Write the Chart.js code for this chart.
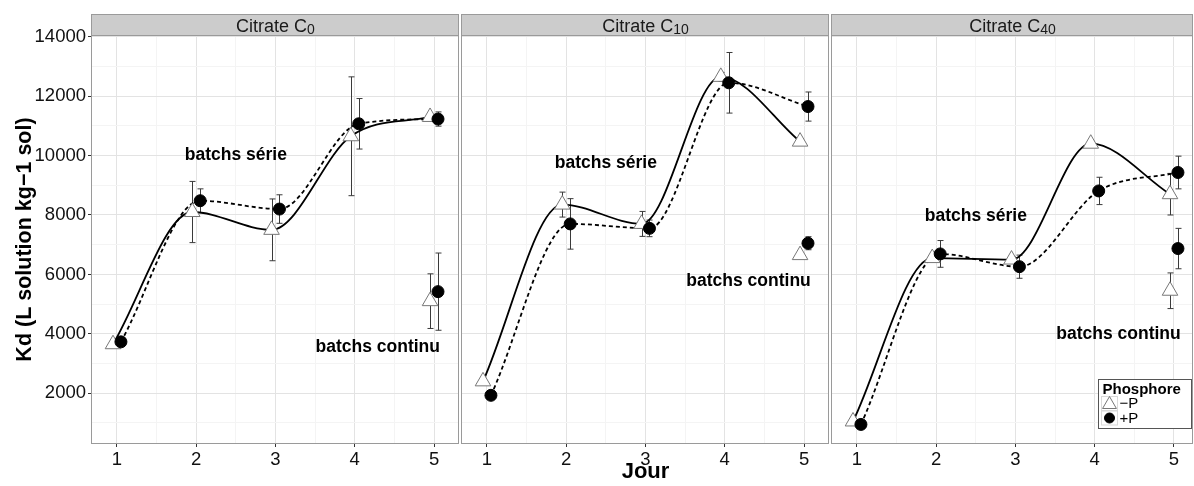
<!DOCTYPE html>
<html>
<head>
<meta charset="utf-8">
<script src="https://cdn.jsdelivr.net/npm/chart.js@4.4.1/dist/chart.umd.min.js"></script>
<style>
  body { margin: 0; background: #fff; width: 1194px; height: 486px; overflow: hidden; position: relative; }
  canvas { position: absolute; top: 0; }
</style>
</head>
<body>
<canvas id="p0" width="460" height="486" style="left:0px"></canvas>
<canvas id="p1" width="371" height="486" style="left:460px"></canvas>
<canvas id="p2" width="363" height="486" style="left:831px"></canvas>
<script>
// --- données ---
const jours = [1, 2, 3, 4, 5];
const citrates = ['0', '10', '40'];            // indice du citrate (C0, C10, C40)
const yTicks = [2000, 4000, 6000, 8000, 10000, 12000, 14000];
const phosphore = ['\u2212P', '+P'];

// batchs série, jours 1 à 5, une ligne par panneau
const serieMoinsP    = [[3650, 8100, 7500, 10650, 11300], [2400, 8350, 7700, 12650, 10470], [1050, 6550, 6500, 10400, 8700]];
const serieMoinsPErr = [[90, 1030, 1040, 2000, 60],       [50, 420, 420, 150, 100],          [50, 80, 100, 80, 700]];
const seriePlusP     = [[3730, 8480, 8200, 11070, 11230], [1930, 7700, 7550, 12450, 11650], [950, 6690, 6260, 8810, 9430]];
const seriePlusPErr  = [[80, 400, 480, 850, 240],         [50, 850, 280, 1020, 490],         [60, 450, 390, 460, 550]];

// batchs continu (jour 5)
const continuMoinsP    = [5100, 6650, 5450];
const continuMoinsPErr = [920, 70, 600];
const continuPlusP     = [5420, 7050, 6870];
const continuPlusPErr  = [1300, 220, 680];

// annotations (coordonnées dans l'espace des données)
const annotTexts = ['batchs série', 'batchs continu'];
const annotPos = [[[2.5, 10000], [4.29, 3550]], [[2.5, 9750], [4.3, 5775]], [[2.5, 7950], [4.3, 4000]]];

const FONT = "'Liberation Sans', Arial, sans-serif";
const dodge = 0.05;

const layouts = [
  { pad: { left: 0, right: 1, top: 36, bottom: 0 }, yWidth: 92, xMax: 5.315 },
  { pad: { left: 2, right: 2, top: 36, bottom: 0 }, yWidth: 0, xMax: 5.315 },
  { pad: { left: 1, right: 1, top: 36, bottom: 0 }, yWidth: 0, xMax: 5.24 }
];

const facetPlugin = {
  id: 'facet',
  beforeDatasetsDraw(chart) {
    const ctx = chart.ctx, ys = chart.scales.y;
    chart.data.datasets.forEach((ds, i) => {
      if (!ds.err) return;
      const meta = chart.getDatasetMeta(i);
      ctx.save();
      ctx.strokeStyle = '#3a3a3a';
      ctx.lineWidth = 1;
      meta.data.forEach((pt, j) => {
        const e = ds.err[j];
        if (!e) return;
        const v = ds.data[j].y;
        const y1 = ys.getPixelForValue(v + e), y2 = ys.getPixelForValue(v - e);
        const x = Math.round(pt.x) + 0.5;
        ctx.beginPath();
        ctx.moveTo(x, y1); ctx.lineTo(x, y2);
        ctx.moveTo(x - 3, y1); ctx.lineTo(x + 3, y1);
        ctx.moveTo(x - 3, y2); ctx.lineTo(x + 3, y2);
        ctx.stroke();
      });
      ctx.restore();
    });
  },
  afterDraw(chart, args, opts) {
    const ctx = chart.ctx, a = chart.chartArea;
    const xs = chart.scales.x, ys = chart.scales.y;
    ctx.save();
    // annotations
    ctx.fillStyle = '#000';
    ctx.font = 'bold 17.5px ' + FONT;
    ctx.textAlign = 'center';
    ctx.textBaseline = 'middle';
    annotPos[opts.panel].forEach((p, k) => {
      ctx.fillText(annotTexts[k], xs.getPixelForValue(p[0]), ys.getPixelForValue(p[1]));
    });
    // bordure du panneau
    ctx.strokeStyle = '#9a9a9a';
    ctx.lineWidth = 1;
    ctx.strokeRect(a.left - 0.5, a.top - 0.5, a.right - a.left, a.bottom - a.top + 1);
    // bandeau
    const sTop = 14.5;
    ctx.fillStyle = '#cccccc';
    ctx.fillRect(a.left - 0.5, sTop, a.right - a.left, a.top - sTop - 0.5);
    ctx.strokeRect(a.left - 0.5, sTop, a.right - a.left, a.top - sTop - 0.5);
    const main = 'Citrate C', sub = citrates[opts.panel];
    ctx.font = '18px ' + FONT;
    const w1 = ctx.measureText(main).width;
    ctx.font = '14px ' + FONT;
    const w2 = ctx.measureText(sub).width;
    const cx = (a.left + a.right) / 2 - (w1 + w2) / 2;
    ctx.fillStyle = '#1a1a1a';
    ctx.textAlign = 'left';
    ctx.textBaseline = 'alphabetic';
    ctx.font = '18px ' + FONT;
    ctx.fillText(main, cx, 31.5);
    ctx.font = '14px ' + FONT;
    ctx.fillText(sub, cx + w1, 34);
    // légende (dernier panneau)
    if (opts.legend) {
      const bx = a.right - 94.5, by = a.bottom - 63.5, bw = 93, bh = 49;
      ctx.fillStyle = '#fff';
      ctx.fillRect(bx, by, bw, bh);
      ctx.strokeStyle = '#555';
      ctx.strokeRect(bx, by, bw, bh);
      ctx.fillStyle = '#000';
      ctx.font = 'bold 15px ' + FONT;
      ctx.fillText('Phosphore', bx + 4, by + 14);
      const keys = [chart.data.datasets[2], chart.data.datasets[3]];
      keys.forEach((ds, k) => {
        const kx = bx + 3, ky = by + 17 + k * 14.5;
        ctx.strokeStyle = '#d9d9d9';
        ctx.lineWidth = 1;
        ctx.strokeRect(kx, ky, 16, 14);
        ctx.fillStyle = ds.pointBackgroundColor;
        ctx.strokeStyle = ds.pointBorderColor;
        ctx.lineWidth = ds.pointBorderWidth;
        Chart.helpers.drawPoint(ctx, {
          pointStyle: ds.pointStyle, radius: ds.pointRadius - 1, rotation: 0,
          borderWidth: ds.pointBorderWidth
        }, kx + 8, ky + (k === 0 ? 8 : 7));
        ctx.fillStyle = '#000';
        ctx.font = '15px ' + FONT;
        ctx.textBaseline = 'middle';
        ctx.fillText(ds.label, kx + 18, ky + 7.5);
        ctx.textBaseline = 'alphabetic';
      });
    }
    ctx.restore();
  }
};

function gridTicks(majors, step, min, max) {
  const all = [];
  majors.forEach(v => { all.push(v - step / 2); all.push(v); });
  all.push(majors[majors.length - 1] + step / 2);
  return all.filter(v => v >= min && v <= max).map(v => ({ value: v }));
}

function makeChart(p) {
  const L = layouts[p];
  const xMin = 0.685, xMax = L.xMax, yMin = 325, yMax = 14025;
  const isMajorX = v => Number.isInteger(v);
  const isMajorY = v => v % 2000 === 0;
  const lineMoins = jours.map((d, i) => ({ x: d - dodge, y: serieMoinsP[p][i] }));
  const linePlus = jours.map((d, i) => ({ x: d + dodge, y: seriePlusP[p][i] }));
  const ptsMoins = lineMoins.concat([{ x: 5 - dodge, y: continuMoinsP[p] }]);
  const ptsPlus = linePlus.concat([{ x: 5 + dodge, y: continuPlusP[p] }]);

  return new Chart(document.getElementById('p' + p), {
    type: 'scatter',
    data: {
      datasets: [
        { type: 'line', label: phosphore[0], data: lineMoins, showLine: true, order: 4,
          borderColor: '#000', borderWidth: 1.8, cubicInterpolationMode: 'monotone', pointRadius: 0, fill: false },
        { type: 'line', label: phosphore[1], data: linePlus, showLine: true, order: 3,
          borderColor: '#000', borderWidth: 1.8, borderDash: [4, 3], cubicInterpolationMode: 'monotone', pointRadius: 0, fill: false },
        { label: phosphore[0], data: ptsMoins, err: serieMoinsPErr[p].concat([continuMoinsPErr[p]]), order: 2,
          pointStyle: 'triangle', pointRadius: 9, pointBackgroundColor: '#fff', pointBorderColor: '#777', pointBorderWidth: 1 },
        { label: phosphore[1], data: ptsPlus, err: seriePlusPErr[p].concat([continuPlusPErr[p]]), order: 1,
          pointStyle: 'circle', pointRadius: 6, pointBackgroundColor: '#000', pointBorderColor: '#000', pointBorderWidth: 1 }
      ]
    },
    options: {
      responsive: false,
      animation: false,
      layout: { padding: L.pad, autoPadding: false },
      plugins: {
        legend: { display: false },
        tooltip: { enabled: false },
        facet: { panel: p, legend: p === 2 }
      },
      scales: {
        x: {
          type: 'linear', min: xMin, max: xMax, bounds: 'data',
          afterBuildTicks: s => { s.ticks = gridTicks(jours, 1, xMin, xMax); },
          afterFit: s => { s.height = 43; s.paddingLeft = 0; s.paddingRight = 0; },
          border: { display: false },
          grid: {
            color: c => isMajorX(c.tick.value) ? '#e3e3e3' : '#f4f4f4',
            tickColor: c => isMajorX(c.tick.value) ? '#333' : 'rgba(0,0,0,0)',
            tickLength: 4
          },
          ticks: {
            autoSkip: false, maxRotation: 0, padding: 2, color: '#111',
            font: { family: FONT, size: 18.5 },
            callback: v => isMajorX(v) ? String(v) : ''
          },
          title: {
            display: p === 1, text: 'Jour', color: '#000',
            font: { family: FONT, size: 22, weight: 'bold' },
            padding: { top: 0, bottom: 1 }
          }
        },
        y: {
          type: 'linear', min: yMin, max: yMax, bounds: 'data',
          afterBuildTicks: s => { s.ticks = gridTicks(yTicks, 2000, yMin, yMax); },
          afterFit: s => { s.width = L.yWidth; s.paddingTop = 0; s.paddingBottom = 0; },
          border: { display: false },
          grid: {
            color: c => isMajorY(c.tick.value) ? '#e3e3e3' : '#f4f4f4',
            tickColor: c => isMajorY(c.tick.value) ? '#333' : 'rgba(0,0,0,0)',
            tickLength: 4,
            drawTicks: p === 0
          },
          ticks: {
            display: p === 0, autoSkip: false, padding: 2, color: '#111',
            font: { family: FONT, size: 18.5 },
            callback: v => isMajorY(v) ? String(v) : ''
          },
          title: {
            display: p === 0, text: 'Kd (L solution kg\u22121 sol)', color: '#000',
            font: { family: FONT, size: 21.5, weight: 'bold' },
            padding: { top: 12, bottom: 0 }
          }
        }
      }
    },
    plugins: [facetPlugin]
  });
}

[0, 1, 2].forEach(makeChart);
</script>
</body>
</html>
